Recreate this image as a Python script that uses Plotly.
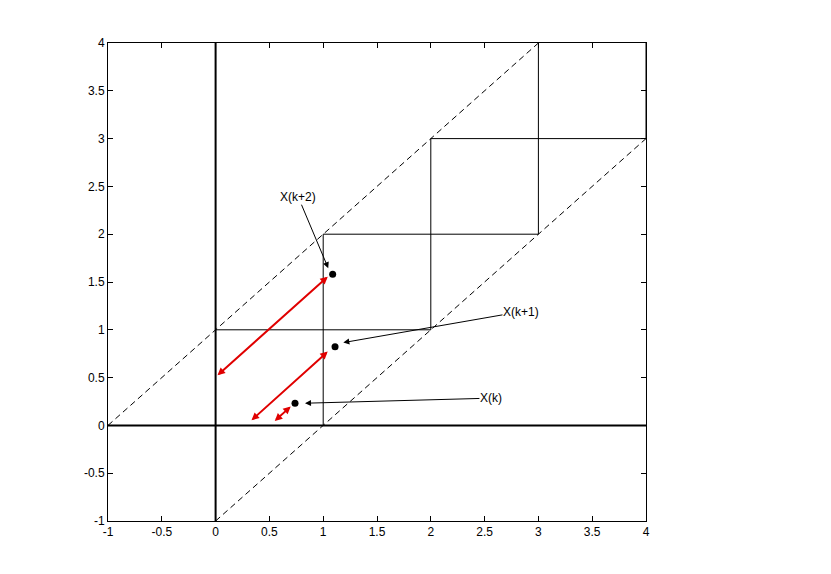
import plotly.graph_objects as go

# diagonales en pointillés
diag_haut_x = [-1, 3]
diag_haut_y = [0, 4]
diag_bas_x = [0, 4]
diag_bas_y = [-1, 3]

# axes épais
axe_x_x = [-1, 4]
axe_x_y = [0, 0]
axe_y_x = [0, 0]
axe_y_y = [-1, 4]

# escalier de carrés
escalier_x = [0, 2, None, 1, 1, None, 1, 3, None, 2, 2, None, 2, 4, None, 3, 3, None, 4, 4]
escalier_y = [1, 1, None, 0, 2, None, 2, 2, None, 1, 3, None, 3, 3, None, 2, 4, None, 3, 4]

# points X(k), X(k+1), X(k+2)
points_x = [0.738, 1.110, 1.088]
points_y = [0.232, 0.824, 1.582]

# flèches rouges (double sens)
rouge_bout_x = [0.698, 1.042, 1.042]
rouge_bout_y = [0.197, 0.772, 1.556]
rouge_queue_x = [0.536, 0.32, 0.004]
rouge_queue_y = [0.033, 0.04, 0.51]

# étiquettes
etiquettes = ["X(k)", "X(k+1)", "X(k+2)"]
etiq_x = [2.559, 2.838, 0.769]
etiq_y = [0.285, 1.19, 2.387]
pointe_x = [0.831, 1.187, 1.047]
pointe_y = [0.232, 0.866, 1.644]

tick_vals = [-1, -0.5, 0, 0.5, 1, 1.5, 2, 2.5, 3, 3.5, 4]
tick_text = ["-1", "-0.5", "0", "0.5", "1", "1.5", "2", "2.5", "3", "3.5", "4"]

fig = go.Figure()
fig.add_trace(go.Scatter(x=diag_haut_x, y=diag_haut_y, mode="lines",
                         line=dict(color="black", width=1, dash="6px,4px")))
fig.add_trace(go.Scatter(x=diag_bas_x, y=diag_bas_y, mode="lines",
                         line=dict(color="black", width=1, dash="6px,4px")))
fig.add_trace(go.Scatter(x=escalier_x, y=escalier_y, mode="lines",
                         line=dict(color="black", width=1)))
fig.add_trace(go.Scatter(x=axe_x_x, y=axe_x_y, mode="lines",
                         line=dict(color="black", width=2)))
fig.add_trace(go.Scatter(x=axe_y_x, y=axe_y_y, mode="lines",
                         line=dict(color="black", width=2)))
fig.add_trace(go.Scatter(x=points_x, y=points_y, mode="markers",
                         marker=dict(color="black", size=7)))

# flèches rouges
for i in range(len(rouge_bout_x)):
    fig.add_annotation(x=rouge_bout_x[i], y=rouge_bout_y[i],
                       ax=rouge_queue_x[i], ay=rouge_queue_y[i],
                       xref="x", yref="y", axref="x", ayref="y",
                       text="", showarrow=True, arrowside="end+start",
                       arrowhead=2, startarrowhead=2, arrowsize=0.75, startarrowsize=0.75,
                       arrowwidth=2, arrowcolor="#e00000", standoff=0, startstandoff=0)

# étiquettes avec flèches noires
for i in range(len(etiquettes)):
    fig.add_annotation(x=pointe_x[i], y=pointe_y[i],
                       ax=etiq_x[i], ay=etiq_y[i],
                       xref="x", yref="y", axref="x", ayref="y",
                       text=etiquettes[i], showarrow=True,
                       arrowhead=2, arrowsize=1.2, arrowwidth=1, arrowcolor="black",
                       font=dict(family="Liberation Sans", size=12, color="black"),
                       borderpad=0)

axe = dict(range=[-1, 4], tickvals=tick_vals, ticktext=tick_text,
           ticks="inside", ticklen=5, tickcolor="black", mirror="ticks",
           showline=True, linecolor="black", linewidth=1,
           showgrid=False, zeroline=False,
           tickfont=dict(family="Liberation Sans", size=12, color="black"))

# la page ajoute 8 px de marge autour du graphique
fig.update_layout(width=831, height=574,
                  margin=dict(l=100, r=193, t=35, b=61),
                  plot_bgcolor="white", paper_bgcolor="white",
                  showlegend=False,
                  xaxis=axe, yaxis=axe)

fig.write_html("out.html")
